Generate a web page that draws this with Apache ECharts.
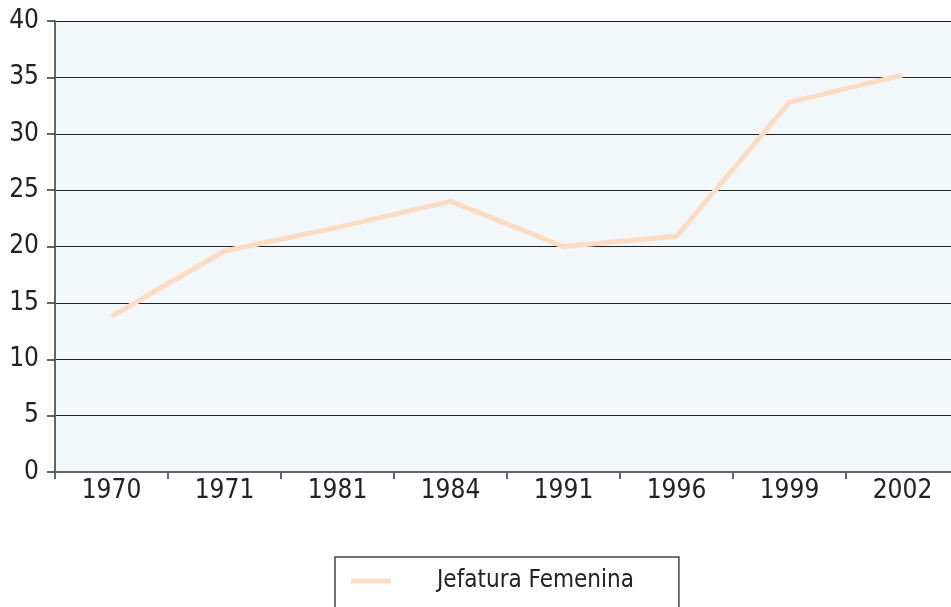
<!DOCTYPE html>
<html><head><meta charset="utf-8">
<script src="https://cdn.jsdelivr.net/npm/echarts@6/dist/echarts.min.js"></script>
<style>html,body{margin:0;padding:0;background:#fff}#c{width:951px;height:607px}</style>
</head><body><div id="c"></div>
<script>
const categories = ['1970','1971','1981','1984','1991','1996','1999','2002'];
const jefaturaFemenina = [13.8, 19.6, 21.7, 24.0, 20.0, 20.9, 32.8, 35.2];
const seriesName = 'Jefatura Femenina';
const FONT = '"Liberation Sans Narrow", "DejaVu Sans Condensed", sans-serif';
const chart = echarts.init(document.getElementById('c'), null, {renderer:'canvas'});
chart.setOption({
  animation:false,
  backgroundColor:'#fff',
  textStyle:{fontFamily:FONT},
  grid:{left:55,width:904,top:21,bottom:135,show:true,backgroundColor:'#f2f7fa',borderWidth:0,
    outerBoundsMode:'none',containLabel:false},
  xAxis:{type:'category',data:categories,boundaryGap:true,
    axisLine:{lineStyle:{color:'#666',width:2}},
    axisTick:{show:true,length:7,lineStyle:{color:'#666',width:2}},
    axisLabel:{color:'#222',fontSize:26,fontFamily:FONT,margin:6},
    splitLine:{show:false}},
  yAxis:{type:'value',min:0,max:40,interval:5,
    axisLine:{show:true,lineStyle:{color:'#666',width:2}},
    axisTick:{show:true,length:8,lineStyle:{color:'#333',width:1.5}},
    axisLabel:{color:'#222',fontSize:26,fontFamily:FONT,margin:16},
    splitLine:{show:true,lineStyle:{color:'#222',width:1.2}}},
  legend:{show:true,left:335,top:557,orient:'horizontal',
    borderColor:'#444',borderWidth:1.5,padding:[12,45,40,16],
    icon:'rect',itemWidth:40,itemHeight:5,
    textStyle:{fontSize:24,color:'#222',fontFamily:FONT,padding:[0,0,0,41]},
    data:[seriesName]},
  series:[{name:seriesName,type:'line',data:jefaturaFemenina,
    symbol:'none',lineStyle:{color:'#fddcc4',width:5},itemStyle:{color:'#fddcc4'}}]
});
</script></body></html>
